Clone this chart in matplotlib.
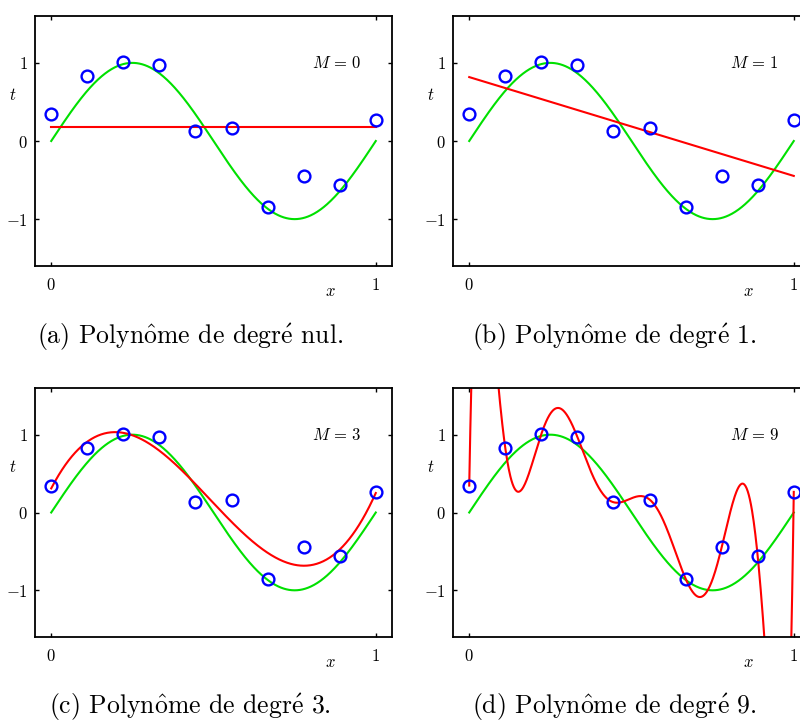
import matplotlib
matplotlib.use('Agg')
import matplotlib.pyplot as plt
import numpy as np

plt.rcParams['mathtext.fontset'] = 'cm'
plt.rcParams['font.family'] = ['cmr10', 'DejaVu Serif']
plt.rcParams['axes.unicode_minus'] = False

x_data = np.linspace(0, 1, 10)
t_data = [0.346, 0.829, 1.009, 0.970, 0.132, 0.167, -0.850, -0.449, -0.564, 0.265]

degrees = [0, 1, 3, 9]
captions = [r'(a) Polyn$\hat{\mathrm{o}}$me de degr$\acute{\mathrm{e}}$ nul.',
            r'(b) Polyn$\hat{\mathrm{o}}$me de degr$\acute{\mathrm{e}}$ 1.',
            r'(c) Polyn$\hat{\mathrm{o}}$me de degr$\acute{\mathrm{e}}$ 3.',
            r'(d) Polyn$\hat{\mathrm{o}}$me de degr$\acute{\mathrm{e}}$ 9.']

W, H = 800, 721
fig = plt.figure(figsize=(W / 100, H / 100), dpi=100)

# axes boxes in pixels: left, top, width, height
boxes = [(35, 16, 357, 250), (453, 16, 357, 250),
         (35, 388, 357, 249), (453, 388, 357, 249)]
cap_pos = [(190, 337), (614, 337), (190, 707), (614, 707)]

xs = np.linspace(0, 1, 600)

for M, box, cap, cp in zip(degrees, boxes, captions, cap_pos):
    l, t, w, h = box
    ax = fig.add_axes([l / W, 1 - (t + h) / H, w / W, h / H])

    fit = np.polynomial.Polynomial.fit(x_data, t_data, M)
    ax.plot(xs, np.sin(2 * np.pi * xs), color='#00e000', lw=1.5)
    ax.plot(xs, fit(xs), color='#ff0000', lw=1.5)
    ax.plot(x_data, t_data, 'o', mfc='none', mec='#0000ff', ms=8.5, mew=1.7)

    ax.set_xlim(-0.05, 1.05)
    ax.set_ylim(-1.6, 1.6)
    ax.set_xticks([0, 1])
    ax.set_xticklabels(['$0$', '$1$'], fontsize=12)
    ax.set_yticks([-1, 0, 1])
    ax.set_yticklabels(['$-1$', '$0$', '$1$'], fontsize=12)
    ax.tick_params(direction='in', length=3, width=1, top=True, right=True)
    ax.tick_params(axis='x', pad=8)
    ax.tick_params(axis='y', pad=5)
    for s in ax.spines.values():
        s.set_linewidth(1.3)

    ax.text(0.88, 1.0, '$M\\,=\\,%d$' % M, fontsize=12, ha='center', va='center')
    ax.text(-0.12, 0.59, '$t$', fontsize=12, ha='center', va='center')
    ax.text(0.86, -1.92, '$x$', fontsize=12, ha='center', va='center')

    fig.text(cp[0] / W, 1 - cp[1] / H, cap, fontsize=18.5, ha='center', va='center')

fig.savefig('out.png', dpi=100)
